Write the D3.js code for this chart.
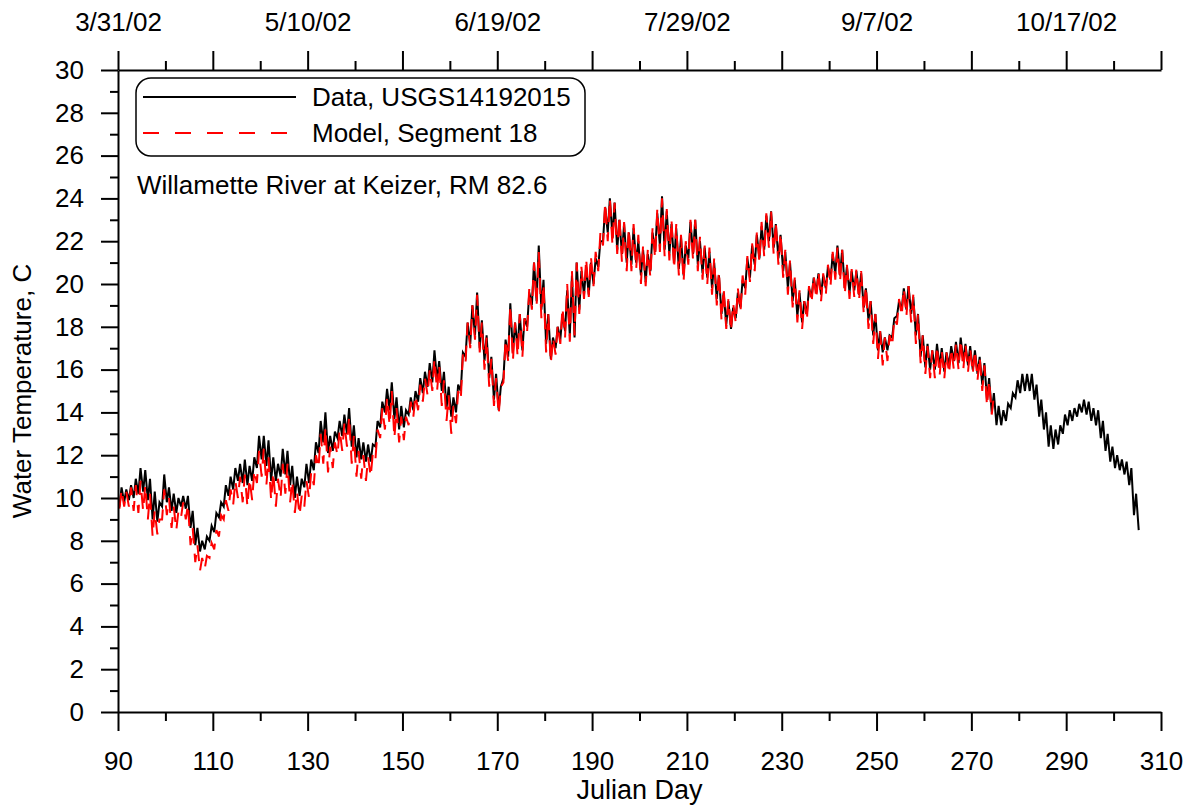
<!DOCTYPE html>
<html>
<head>
<meta charset="utf-8">
<script src="https://cdn.jsdelivr.net/npm/d3@7"></script>
<style>
body { margin: 0; background: #fff; }
text { font-family: "Liberation Sans", Arial, sans-serif; fill: #000; }
</style>
</head>
<body>
<div id="chart"></div>
<script>
// daily low / high water temperature, starting at Julian day 90
const dataStart = 90;
const dataLo = [9.6,9.8,9.9,10.0,10.2,10.3,9.9,9.0,8.9,9.6,9.8,9.4,9.3,9.6,9.5,8.6,7.8,7.5,7.6,8.0,
  8.4,9.1,9.6,10.1,10.4,10.8,10.7,10.6,10.8,11.4,11.8,11.5,10.8,10.8,11.0,11.1,10.6,10.0,10.1,10.5,
  10.7,11.3,12.1,12.6,12.1,12.2,12.8,12.9,13.0,12.4,11.9,11.8,11.7,11.7,12.4,13.3,14.0,14.1,13.7,13.2,
  13.3,13.9,14.1,14.5,14.9,15.2,15.4,15.5,15.0,14.2,13.8,14.0,15.0,16.6,17.2,17.6,17.0,16.4,15.6,14.6,
  14.1,15.6,16.6,16.8,17.0,16.9,18.0,19.0,19.2,18.8,17.2,16.5,17.0,17.4,17.8,17.6,17.5,18.8,19.5,19.5,
  20.0,20.8,22.0,22.4,22.2,21.6,21.4,21.0,20.9,21.0,20.4,20.1,20.6,21.5,21.8,21.6,21.4,21.0,20.7,20.4,
  21.2,21.4,20.9,20.5,20.3,19.8,19.3,18.6,18.1,17.9,18.4,18.9,19.8,20.3,20.9,21.2,21.6,22.0,21.7,21.2,
  20.6,19.8,19.2,18.5,18.2,18.6,19.4,19.6,19.5,19.8,20.2,20.5,20.4,19.8,19.6,19.7,19.5,18.9,18.3,17.6,
  16.9,16.8,16.9,17.5,18.5,18.8,18.8,18.6,17.6,16.6,16.1,16.0,16.0,16.1,15.9,16.2,16.4,16.3,16.4,16.2,
  16.0,15.8,15.3,14.6,14.0,13.4,13.4,13.6,14.2,14.7,14.9,15.0,15.0,14.6,13.8,13.2,12.4,12.3,12.5,13.0,
  13.4,13.6,13.8,14.0,13.9,13.6,13.4,12.8,12.2,11.7,11.4,11.3,11.1,10.6,9.2,8.5];
const dataHi = [10.5,10.4,10.6,10.9,11.4,11.3,10.9,10.3,9.8,11.1,10.5,10.2,10.0,10.1,10.1,9.4,8.6,8.0,8.2,8.7,
  9.3,9.8,10.6,11.0,11.4,11.6,11.8,11.5,11.9,12.9,12.9,12.7,11.9,11.6,12.3,12.2,11.5,11.0,10.9,11.6,
  11.8,12.6,13.6,14.0,12.9,13.1,13.6,13.9,14.2,13.4,12.8,12.6,12.5,12.5,13.6,14.5,15.1,15.4,14.7,14.3,
  14.1,14.7,15.0,15.6,15.9,16.3,16.9,16.4,15.9,15.2,14.7,15.3,16.8,18.2,19.0,19.6,18.3,17.6,16.6,15.8,
  15.2,17.4,19.1,18.2,18.6,18.4,19.6,21.0,21.8,20.2,18.6,17.5,18.0,18.6,19.7,20.4,21.0,20.6,20.8,21.0,
  21.2,22.0,23.6,24.0,23.8,23.0,22.8,22.4,22.6,22.0,21.6,21.4,22.4,23.3,24.1,23.4,22.8,22.6,22.2,21.8,
  22.9,23.0,22.0,21.7,21.5,21.0,20.4,19.6,19.2,18.9,19.6,20.2,21.2,21.8,22.3,22.7,23.2,23.4,22.8,22.3,
  21.5,21.0,20.2,19.6,19.2,19.8,20.3,20.5,20.4,20.8,21.4,21.8,21.6,20.8,20.6,20.6,20.5,19.8,19.2,18.6,
  17.8,17.5,17.6,18.4,19.2,19.8,19.9,19.4,18.6,17.6,17.2,16.9,17.2,17.0,16.8,17.1,17.3,17.5,17.2,17.1,
  16.9,16.6,16.3,15.6,14.9,14.3,14.1,14.4,14.9,15.5,15.8,15.8,15.8,15.3,14.6,14.0,13.4,13.2,13.4,13.9,
  14.1,14.2,14.4,14.6,14.5,14.2,14.1,13.6,13.0,12.4,12.0,11.8,11.7,11.4,10.2];

const modelStart = 90;
const modelLo = [9.5,9.6,9.6,9.4,9.3,9.4,9.0,8.2,8.3,9.0,9.2,8.6,8.5,9.1,9.0,7.8,7.0,6.6,6.7,7.2,
  7.6,8.2,9.0,9.4,9.7,10.0,9.8,9.6,9.9,10.7,11.0,10.6,9.9,9.6,10.0,10.2,9.8,9.3,9.2,9.6,
  10.0,10.6,11.4,11.6,11.2,11.4,12.0,12.2,12.4,11.6,11.0,10.9,10.8,11.0,11.8,12.8,13.2,13.4,12.8,12.6,
  12.7,13.4,13.8,14.1,14.5,14.8,15.0,15.0,14.3,13.6,13.0,13.5,14.6,16.3,17.0,17.4,16.8,16.0,15.2,14.3,
  13.9,15.4,16.4,16.4,16.6,16.6,17.8,18.8,19.0,18.4,16.8,16.3,16.7,17.2,17.5,17.3,17.6,18.6,19.3,19.4,
  19.9,20.6,21.8,22.0,21.8,21.4,21.0,20.6,20.6,20.7,20.0,19.9,20.3,21.2,21.5,21.3,21.1,20.7,20.4,20.1,
  20.9,21.1,20.6,20.2,20.0,19.5,19.0,18.3,17.9,17.8,18.2,18.7,19.5,20.1,20.6,21.0,21.3,21.7,21.4,20.9,
  20.3,19.5,18.9,18.2,17.9,18.3,19.1,19.3,19.2,19.5,19.9,20.2,20.1,19.5,19.3,19.4,19.2,18.6,17.9,17.2,
  16.5,16.2,16.4,17.1,18.1,18.5,18.5,18.2,17.2,16.3,15.8,15.6,15.6,15.7,15.6,15.8,16.0,16.0,16.0,15.9,
  15.8,15.5,15.0,14.3,13.9];
const modelHi = [10.4,10.3,10.5,10.6,10.8,10.6,10.2,9.4,9.0,10.4,10.0,9.6,9.4,9.8,9.7,8.6,7.8,7.2,7.3,7.9,
  8.5,9.2,9.9,10.4,10.8,11.0,11.1,10.9,11.3,12.2,12.3,11.9,11.2,10.9,11.6,11.6,10.8,10.3,10.1,10.8,
  11.2,12.0,13.0,13.3,12.4,12.6,13.2,13.5,13.8,12.9,12.2,12.0,11.9,12.1,13.2,14.2,14.7,15.0,14.2,13.8,
  13.8,14.5,14.8,15.3,15.6,16.0,16.5,16.2,15.5,14.8,14.3,15.0,16.7,18.2,19.0,19.5,18.2,17.5,16.5,15.6,
  15.2,17.4,19.0,18.2,18.6,18.4,19.8,21.0,21.5,20.0,18.6,17.5,18.1,18.9,20.0,20.6,21.0,20.8,21.2,21.3,
  21.5,22.4,23.8,24.0,23.8,23.2,22.9,22.6,22.8,22.3,21.8,21.6,22.6,23.5,24.0,23.5,23.0,22.8,22.3,22.0,
  23.0,23.0,22.2,21.8,21.7,21.2,20.6,19.8,19.3,19.1,19.8,20.4,21.3,21.9,22.4,22.9,23.3,23.4,22.9,22.4,
  21.6,21.1,20.3,19.7,19.2,19.9,20.4,20.6,20.5,20.9,21.5,21.7,21.6,20.9,20.7,20.7,20.6,19.9,19.2,18.6,
  17.8,17.5,17.6,18.4,19.3,19.8,19.9,19.5,18.6,17.6,17.1,16.9,17.1,16.9,16.8,17.0,17.2,17.4,17.2,17.0,
  16.9,16.6,16.2,15.5,14.8];

const xTicks = d3.range(90, 311, 20);
const xMinor = d3.range(100, 310, 20);
const yTicks = d3.range(0, 31, 2);
const yMinor = d3.range(1, 30, 2);
const dateTicks = [90, 130, 170, 210, 250, 290];
const dateLabels = ["3/31/02", "5/10/02", "6/19/02", "7/29/02", "9/7/02", "10/17/02"];

const width = 1194, height = 806;
const margin = {top: 70, right: 33, bottom: 94, left: 118};
const fs = "26px";

const svg = d3.select("#chart")
  .append("svg")
  .attr("width", width)
  .attr("height", height);

const x = d3.scaleLinear().domain([90, 310]).range([margin.left, width - margin.right]);
const y = d3.scaleLinear().domain([0, 30]).range([height - margin.bottom, margin.top]);

// turn daily low/high into a day-by-day zigzag
function daily(start, lo, hi) {
  let pts = [];
  lo.forEach((v, i) => {
    pts.push([start + i + 0.3, v]);
    if (hi[i] != null) pts.push([start + i + 0.75, hi[i]]);
  });
  return pts;
}

const line = d3.line().x(d => x(d[0])).y(d => y(d[1]));

svg.append("path")
  .datum(daily(dataStart, dataLo, dataHi))
  .attr("fill", "none")
  .attr("stroke", "#000")
  .attr("stroke-width", 2)
  .attr("d", line);

svg.append("path")
  .datum(daily(modelStart, modelLo, modelHi))
  .attr("fill", "none")
  .attr("stroke", "#ff0000")
  .attr("stroke-width", 2)
  .attr("stroke-dasharray", "16,10")
  .attr("d", line);

function styleAxis(g) {
  g.selectAll("path, line").attr("stroke", "#000").attr("stroke-width", 2);
  g.selectAll("text").style("font-size", fs).attr("fill", "#000");
}

const bottom = height - margin.bottom;
svg.append("g").attr("transform", `translate(0,${bottom})`)
  .call(d3.axisBottom(x).tickValues(xTicks).tickSize(19).tickSizeOuter(0).tickPadding(21).tickFormat(d3.format("d")))
  .call(styleAxis);
svg.append("g").attr("transform", `translate(0,${bottom})`)
  .call(d3.axisBottom(x).tickValues(xMinor).tickSize(9).tickFormat(""))
  .call(g => g.select(".domain").remove())
  .call(styleAxis);

const dateOf = {};
dateTicks.forEach((d, i) => dateOf[d] = dateLabels[i]);
svg.append("g").attr("transform", `translate(0,${margin.top})`)
  .call(d3.axisTop(x).tickValues(xTicks).tickSize(19).tickSizeOuter(0).tickPadding(20).tickFormat(d => dateOf[d] || ""))
  .call(styleAxis);
svg.append("g").attr("transform", `translate(0,${margin.top})`)
  .call(d3.axisTop(x).tickValues(xMinor).tickSize(9).tickFormat(""))
  .call(g => g.select(".domain").remove())
  .call(styleAxis);

svg.append("g").attr("transform", `translate(${margin.left},0)`)
  .call(d3.axisLeft(y).tickValues(yTicks).tickSize(17).tickSizeOuter(0).tickPadding(17).tickFormat(d3.format("d")))
  .call(styleAxis);
svg.append("g").attr("transform", `translate(${margin.left},0)`)
  .call(d3.axisLeft(y).tickValues(yMinor).tickSize(8).tickFormat(""))
  .call(g => g.select(".domain").remove())
  .call(styleAxis);

// axis titles
svg.append("text")
  .attr("x", (margin.left + width - margin.right) / 2)
  .attr("y", 799)
  .attr("text-anchor", "middle")
  .style("font-size", "27px")
  .text("Julian Day");

svg.append("text")
  .attr("transform", `translate(31,${(margin.top + bottom) / 2}) rotate(-90)`)
  .attr("text-anchor", "middle")
  .style("font-size", fs)
  .text("Water Temperature, C");

// legend
const legend = svg.append("g");
legend.append("rect")
  .attr("x", 136).attr("y", 78)
  .attr("width", 449).attr("height", 78)
  .attr("rx", 15)
  .attr("fill", "#fff")
  .attr("stroke", "#000")
  .attr("stroke-width", 1.5);
legend.append("line")
  .attr("x1", 143).attr("x2", 296).attr("y1", 97).attr("y2", 97)
  .attr("stroke", "#000").attr("stroke-width", 2);
legend.append("line")
  .attr("x1", 143).attr("x2", 296).attr("y1", 133).attr("y2", 133)
  .attr("stroke", "#ff0000").attr("stroke-width", 2)
  .attr("stroke-dasharray", "16,16");
legend.append("text").attr("x", 312).attr("y", 106).style("font-size", fs).text("Data, USGS14192015");
legend.append("text").attr("x", 312).attr("y", 142).style("font-size", fs).text("Model, Segment 18");

svg.append("text")
  .attr("x", 137).attr("y", 194)
  .style("font-size", fs)
  .text("Willamette River at Keizer, RM 82.6");
</script>
</body>
</html>
